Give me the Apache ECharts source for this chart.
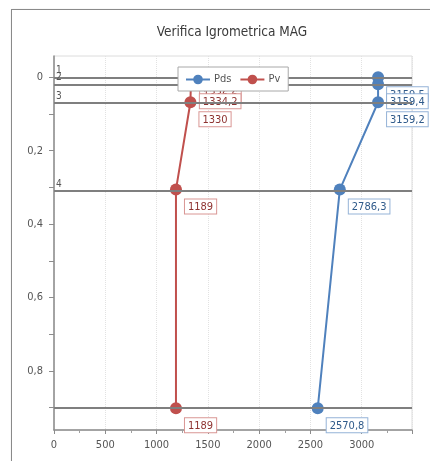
<!DOCTYPE html>
<html>
<head>
<meta charset="utf-8">
<script src="https://cdn.jsdelivr.net/npm/echarts@6/dist/echarts.min.js"></script>
<style>
  html, body { margin: 0; padding: 0; background: #fff; overflow: hidden; }
  #frame { position: absolute; left: 11px; top: 9px; width: 460px; height: 480px;
           border: 1px solid #8a8a8a; box-shadow: 1px 1px 2px rgba(0,0,0,0.35); }
  #chart { position: absolute; left: 0; top: 0; width: 430px; height: 461px; }
</style>
</head>
<body>
<div id="frame"></div>
<div id="chart"></div>
<script>
// Depth of each layer interface (m) and its label
const layerDepths = [0, 0.019, 0.068, 0.306, 0.902];
const layerNames = ['1', '2', '3', '4'];

// Saturation pressure (Pds) and vapour pressure (Pv) at each interface, Pa
const pdsValues = [3159.5, 3159.4, 3159.2, 2786.3, 2570.8];
const pvValues = [1336.6, 1334.2, 1330, 1189, 1189];

// Axis labels
const xTickLabels = [0, 500, 1000, 1500, 2000, 2500, 3000];
const yTickLabels = [0, 0.2, 0.4, 0.6, 0.8];

const fmt = v => String(Math.round(v * 10) / 10).replace('.', ',');

const BLUE = '#4f81bd';
const RED = '#c0504d';

function pointSeries(name, values, color, textColor, borderColor) {
  return {
    name: name,
    type: 'line',
    z: 3,
    data: values.map((v, i) => [v, layerDepths[i]]),
    symbol: 'circle',
    symbolSize: 12,
    itemStyle: { color: color },
    lineStyle: { color: color, width: 2 },
    label: {
      show: true,
      position: [15, 16],
      formatter: p => fmt(p.value[0]),
      fontFamily: 'DejaVu Sans Condensed',
      fontSize: 11,
      color: textColor,
      backgroundColor: '#fff',
      borderColor: borderColor,
      borderWidth: 1,
      padding: [2, 3, 1, 3]
    }
  };
}

const chart = echarts.init(document.getElementById('chart'), null, { renderer: 'canvas' });

chart.setOption({
  animation: false,
  backgroundColor: 'transparent',
  title: {
    text: 'Verifica Igrometrica MAG',
    left: 227,
    textAlign: 'center',
    top: 20,
    textStyle: { fontFamily: 'DejaVu Sans Condensed', fontSize: 13.5, fontWeight: 'normal', color: '#3a3a3a' }
  },
  legend: {
    data: ['Pds', 'Pv'],
    z: 20,
    left: 178,
    top: 67,
    padding: [7, 8, 6, 7],
    itemGap: 8,
    itemWidth: 24,
    itemHeight: 12,
    backgroundColor: '#fff',
    borderColor: '#a8a8a8',
    borderWidth: 1,
    borderRadius: 0,
    textStyle: { fontFamily: 'DejaVu Sans Condensed', fontSize: 11, color: '#555', padding: [0, 0, 0, -1] }
  },
  grid: {
    left: 54, right: 18, top: 56, bottom: 31,
    show: true,
    borderColor: '#dcdcdc',
    borderWidth: 1
  },
  xAxis: {
    type: 'value',
    min: 0,
    max: 3490,
    interval: 500,
    axisLine: { show: true, onZero: false, lineStyle: { color: '#8c8c8c', width: 1.5 } },
    axisTick: { show: true, length: 4, lineStyle: { color: '#8c8c8c' } },
    minorTick: { show: true, splitNumber: 2, length: 3, lineStyle: { color: '#a0a0a0' } },
    axisLabel: {
      customValues: xTickLabels,
      formatter: v => String(v),
      margin: 10,
      fontFamily: 'DejaVu Sans Condensed',
      fontSize: 11,
      color: '#555'
    },
    splitLine: { show: true, lineStyle: { color: '#e2e2e2', type: 'dotted' } }
  },
  yAxis: {
    type: 'value',
    inverse: true,
    min: -0.058,
    max: 0.961,
    axisLine: { show: true, onZero: false, lineStyle: { color: '#8c8c8c', width: 1.5 } },
    axisTick: {
      show: true,
      length: 5,
      customValues: [0, 0.1, 0.2, 0.3, 0.4, 0.5, 0.6, 0.7, 0.8, 0.9],
      lineStyle: { color: '#8c8c8c' }
    },
    axisLabel: {
      customValues: yTickLabels,
      formatter: v => String(v).replace('.', ','),
      margin: 11,
      fontFamily: 'DejaVu Sans Condensed',
      fontSize: 11,
      color: '#555'
    },
    splitLine: { show: false }
  },
  series: [
    {
      name: 'layers',
      type: 'line',
      z: 1,
      data: [],
      silent: true,
      markLine: {
        silent: true,
        symbol: 'none',
        animation: false,
        lineStyle: { color: '#7f7f7f', width: 2, type: 'solid' },
        label: {
          show: true,
          position: 'insideStartTop',
          distance: [2, 2],
          formatter: '{b}',
          fontFamily: 'DejaVu Sans Condensed',
          fontSize: 10,
          color: '#555'
        },
        data: layerDepths.map((d, i) => ({
          yAxis: d,
          name: layerNames[i] || '',
          label: { show: i < layerNames.length }
        }))
      }
    },
    pointSeries('Pds', pdsValues, BLUE, '#2f5a8a', '#95b3d7'),
    pointSeries('Pv', pvValues, RED, '#8e3331', '#d99694')
  ]
});
</script>
</body>
</html>
